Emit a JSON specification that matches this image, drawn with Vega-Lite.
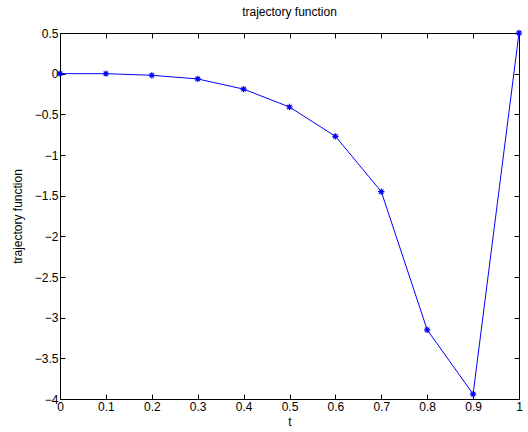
{
  "$schema": "https://vega.github.io/schema/vega-lite/v6.json",
  "width": 459,
  "height": 366,
  "autosize": {"type": "none"},
  "padding": {"left": 60, "top": 33, "right": 9, "bottom": 33},
  "background": "white",
  "config": {
    "font": "Liberation Sans",
    "view": {"stroke": "black", "strokeWidth": 1},
    "axis": {
      "grid": false,
      "domainColor": "black",
      "tickColor": "black",
      "labelColor": "black",
      "titleColor": "black",
      "labelFont": "Liberation Sans",
      "titleFont": "Liberation Sans",
      "labelFontSize": 12,
      "titleFontSize": 12,
      "titleFontWeight": "normal",
      "tickSize": -5,
      "format": "~g"
    }
  },
  "title": {"text": "trajectory function", "fontSize": 12, "fontWeight": "normal", "font": "Liberation Sans", "color": "black", "offset": 8},
  "data": {
    "values": [
      {"t": 0.0, "v": 0.0},
      {"t": 0.1, "v": 0.0},
      {"t": 0.2, "v": -0.02},
      {"t": 0.3, "v": -0.065},
      {"t": 0.4, "v": -0.19},
      {"t": 0.5, "v": -0.41},
      {"t": 0.6, "v": -0.77},
      {"t": 0.7, "v": -1.45},
      {"t": 0.8, "v": -3.15},
      {"t": 0.9, "v": -3.94},
      {"t": 1.0, "v": 0.5}
    ]
  },
  "layer": [
    {
      "mark": {"type": "line", "color": "#0000ff", "strokeWidth": 1},
      "encoding": {
        "x": {"field": "t", "type": "quantitative", "scale": {"domain": [0, 1], "nice": false, "zero": false},
              "axis": {"orient": "bottom", "values": [0,0.1,0.2,0.3,0.4,0.5,0.6,0.7,0.8,0.9,1], "title": "t", "titlePadding": 4, "labelPadding": 7, "labelFlush": false, "labelOverlap": false}},
        "y": {"field": "v", "type": "quantitative", "scale": {"domain": [-4, 0.5], "nice": false, "zero": false},
              "axis": {"orient": "left", "values": [-4,-3.5,-3,-2.5,-2,-1.5,-1,-0.5,0,0.5], "title": "trajectory function", "titlePadding": 10, "labelPadding": 7, "labelFlush": false, "labelOverlap": false}}
      }
    },
    {
      "mark": {"type": "point", "shape": "M-1,0L1,0M0,-1L0,1M-0.7,-0.7L0.7,0.7M-0.7,0.7L0.7,-0.7", "color": "#0000ff", "filled": false, "strokeWidth": 1.2, "size": 40, "opacity": 1},
      "encoding": {
        "x": {"field": "t", "type": "quantitative", "scale": {"domain": [0, 1], "nice": false, "zero": false},
              "axis": {"orient": "top", "values": [0,0.1,0.2,0.3,0.4,0.5,0.6,0.7,0.8,0.9,1], "labels": false, "title": null}},
        "y": {"field": "v", "type": "quantitative", "scale": {"domain": [-4, 0.5], "nice": false, "zero": false},
              "axis": {"orient": "right", "values": [-4,-3.5,-3,-2.5,-2,-1.5,-1,-0.5,0,0.5], "labels": false, "title": null}}
      }
    }
  ],
  "resolve": {"axis": {"x": "independent", "y": "independent"}}
}
